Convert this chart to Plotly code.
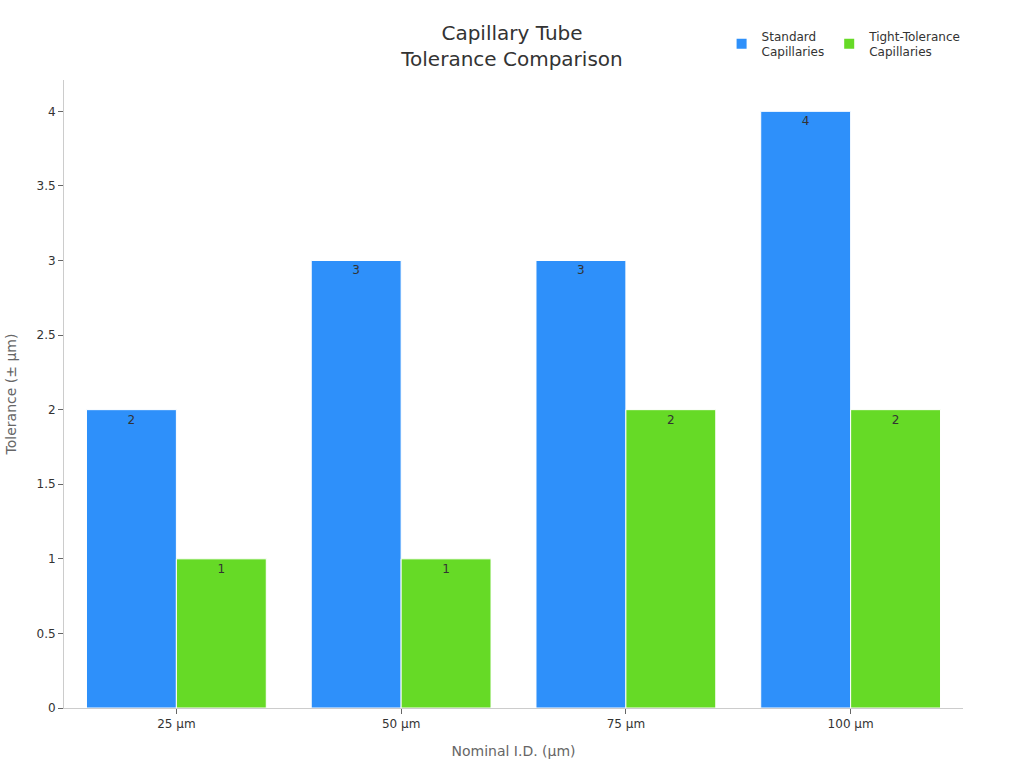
import plotly.graph_objects as go

categories = ["25 µm", "50 µm", "75 µm", "100 µm"]
standard = [2, 3, 3, 4]
tight = [1, 1, 2, 2]
series_names = ["Standard<br>Capillaries", "Tight-Tolerance<br>Capillaries"]
colors = ["#2E90FA", "#66DA26"]

fig = go.Figure()
for name, vals, col in zip(series_names, [standard, tight], colors):
    fig.add_trace(go.Bar(
        x=categories, y=vals, name=name,
        marker=dict(color=col, line=dict(color="white", width=1)),
        text=[str(v) for v in vals], textposition="inside",
        insidetextanchor="end",
        textfont=dict(color="#333333", size=12),
    ))

fig.update_layout(
    width=1024, height=768,
    barmode="group", bargap=0.2, bargroupgap=0,
    plot_bgcolor="white", paper_bgcolor="white",
    font=dict(family="DejaVu Sans", color="#333333"),
    margin=dict(l=64, r=61, t=80, b=60, autoexpand=False),
    title=dict(text="Capillary Tube<br>Tolerance Comparison", x=0.5, xanchor="center",
               y=0.948, yanchor="middle", font=dict(size=20, color="#333333")),
    legend=dict(orientation="h", x=1.004, xanchor="right", y=1.057, yanchor="middle",
                font=dict(size=12, color="#333333"), itemsizing="constant"),
    xaxis=dict(title=dict(text="Nominal I.D. (µm)", font=dict(size=14, color="#666666"), standoff=15),
               showline=True, linecolor="#cccccc", ticks="outside", tickcolor="#666666",
               ticklen=5, tickfont=dict(size=12, color="#333333"), showgrid=False),
    yaxis=dict(title=dict(text="Tolerance (± µm)", font=dict(size=14, color="#666666"), standoff=16),
               range=[0, 4.21], dtick=0.5, showline=True, linecolor="#cccccc",
               ticks="outside", tickcolor="#666666", ticklen=5,
               tickfont=dict(size=12, color="#333333"), showgrid=False, zeroline=False),
)

fig.write_html("out.html")
